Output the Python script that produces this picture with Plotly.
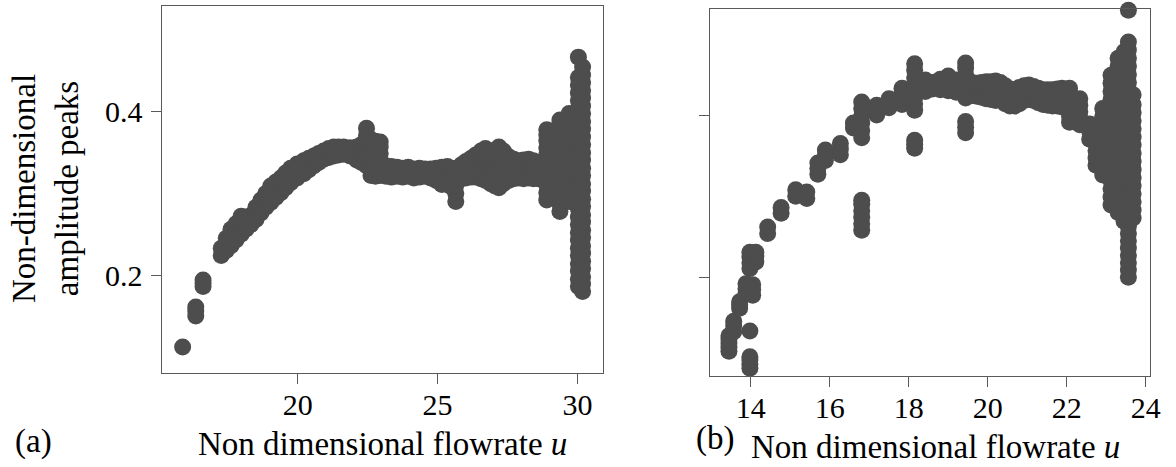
import plotly.graph_objects as go

# ---------------- panel (a) ----------------
a_u = [15.89, 16.36, 16.62,
       17.27, 17.45, 17.62, 17.80, 17.98, 18.15, 18.33, 18.51, 18.69, 18.86,
       19.04, 19.22, 19.40, 19.57, 19.75, 19.98, 20.22, 20.40, 20.58, 20.75,
       20.93, 21.11, 21.29, 21.46, 21.64, 21.87, 22.11, 22.28,
       22.46, 22.62, 22.78, 22.95,
       23.15, 23.35, 23.55, 23.75, 23.95, 24.15, 24.35, 24.55, 24.75, 24.95,
       25.15, 25.35, 25.50, 25.65, 25.85, 26.01, 26.20, 26.36, 26.55, 26.71,
       26.90, 27.05, 27.19, 27.35, 27.54, 27.72, 27.89, 28.07, 28.25, 28.42,
       28.60, 28.90, 29.37, 29.70, 30.03, 30.18]
a_peaks = [
    [0.112], [0.150, 0.156, 0.161], [0.186, 0.190, 0.194],
    [0.224, 0.233], [0.230, 0.238, 0.245], [0.236, 0.246, 0.256],
    [0.243, 0.253, 0.263], [0.250, 0.261, 0.272], [0.256, 0.264, 0.271],
    [0.262, 0.273], [0.268, 0.276, 0.283], [0.276, 0.284, 0.292],
    [0.283, 0.292, 0.300],
    [0.289, 0.299, 0.309], [0.295, 0.305, 0.314], [0.301, 0.310, 0.319],
    [0.307, 0.316, 0.325], [0.313, 0.322, 0.331], [0.319, 0.328, 0.336],
    [0.324, 0.332, 0.340], [0.329, 0.336, 0.343], [0.334, 0.340, 0.346],
    [0.338, 0.349],
    [0.342, 0.352], [0.344, 0.355], [0.346, 0.357], [0.347, 0.357],
    [0.348, 0.357], [0.346, 0.356], [0.341, 0.349, 0.357],
    [0.338, 0.349, 0.360],
    [0.334, 0.343, 0.352, 0.362, 0.371, 0.380],
    [0.322, 0.330, 0.339, 0.348, 0.357, 0.366],
    [0.321, 0.330, 0.339, 0.348, 0.356, 0.364],
    [0.322, 0.331, 0.340, 0.349, 0.357, 0.363],
    [0.321, 0.334], [0.320, 0.333], [0.321, 0.332], [0.320, 0.331],
    [0.321, 0.332], [0.319, 0.330], [0.320, 0.331], [0.321, 0.330],
    [0.319, 0.330], [0.316, 0.331],
    [0.311, 0.322, 0.332], [0.311, 0.322, 0.333], [0.308, 0.320, 0.331],
    [0.290, 0.300, 0.310, 0.320, 0.328], [0.318, 0.326, 0.335],
    [0.319, 0.329, 0.339], [0.320, 0.331, 0.343], [0.320, 0.333, 0.347],
    [0.318, 0.328, 0.340, 0.352], [0.316, 0.326, 0.336, 0.346, 0.355],
    [0.312, 0.322, 0.331, 0.341, 0.350], [0.309, 0.319, 0.329, 0.340, 0.353],
    [0.307, 0.317, 0.327, 0.337, 0.347, 0.357],
    [0.312, 0.322, 0.332, 0.342, 0.352], [0.316, 0.326, 0.336, 0.345],
    [0.318, 0.330, 0.342], [0.319, 0.330, 0.340], [0.318, 0.330, 0.341],
    [0.319, 0.331, 0.342], [0.318, 0.329, 0.340], [0.318, 0.328, 0.338],
    [0.292, 0.301, 0.311, 0.320, 0.329, 0.338, 0.347, 0.356, 0.365, 0.372,
     0.378],
    [0.278, 0.287, 0.296, 0.306, 0.315, 0.324, 0.333, 0.342, 0.351, 0.360,
     0.369, 0.378, 0.386, 0.390],
    [0.290, 0.300, 0.311, 0.322, 0.333, 0.344, 0.355, 0.366, 0.377, 0.388,
     0.398],
    [0.186, 0.195, 0.205, 0.214, 0.224, 0.233, 0.243, 0.252, 0.262, 0.271,
     0.281, 0.290, 0.300, 0.309, 0.319, 0.328, 0.338, 0.347, 0.357, 0.366,
     0.376, 0.385, 0.395, 0.404, 0.414, 0.423, 0.433, 0.442, 0.467],
    [0.180, 0.189, 0.198, 0.208, 0.217, 0.227, 0.236, 0.246, 0.255, 0.265,
     0.274, 0.284, 0.293, 0.303, 0.312, 0.322, 0.331, 0.341, 0.350, 0.360,
     0.369, 0.379, 0.388, 0.398, 0.407, 0.417, 0.426, 0.436, 0.445, 0.455],
]

# ---------------- panel (b) ----------------
b_u = [13.45, 13.57, 13.72, 13.88, 13.98, 14.05, 14.13, 14.43, 14.77, 15.14,
       15.42, 15.70, 15.89, 16.27, 16.60, 16.81, 17.19, 17.50, 17.83, 18.15,
       18.42, 18.60, 18.80, 19.00, 19.20, 19.44,
       19.60, 19.72, 19.84, 19.96, 20.08, 20.20, 20.32, 20.44, 20.56, 20.68,
       20.80, 20.92, 21.04, 21.16, 21.28, 21.40, 21.52, 21.64, 21.76, 21.88,
       22.07, 22.33, 22.58, 22.74, 22.91, 23.12, 23.30, 23.45, 23.56, 23.68]
b_peaks = [
    [0.109, 0.114, 0.119, 0.124, 0.128], [0.133, 0.140, 0.146],
    [0.162, 0.166, 0.170], [0.180, 0.186, 0.192],
    [0.088, 0.093, 0.098, 0.102, 0.134, 0.211, 0.218, 0.225, 0.231],
    [0.178, 0.185, 0.191], [0.219, 0.226, 0.231],
    [0.254, 0.262], [0.279, 0.286], [0.300, 0.308], [0.297, 0.305],
    [0.327, 0.334, 0.341], [0.344, 0.351, 0.357], [0.351, 0.358, 0.365],
    [0.384, 0.390],
    [0.258, 0.266, 0.274, 0.282, 0.290, 0.295,
     0.372, 0.381, 0.390, 0.399, 0.408, 0.416],
    [0.400, 0.406, 0.412], [0.409, 0.415, 0.420], [0.413, 0.420, 0.427, 0.433],
    [0.359, 0.364, 0.369, 0.406, 0.414, 0.422, 0.430, 0.438, 0.446, 0.455,
     0.463],
    [0.429, 0.436, 0.443], [0.432, 0.440], [0.431, 0.438, 0.444],
    [0.430, 0.437, 0.444, 0.448], [0.428, 0.436, 0.443],
    [0.378, 0.385, 0.392, 0.421, 0.430, 0.440, 0.450, 0.458, 0.464],
    [0.424, 0.432, 0.440], [0.423, 0.431, 0.439], [0.422, 0.431, 0.440],
    [0.420, 0.430, 0.441], [0.419, 0.430, 0.441], [0.418, 0.430, 0.442],
    [0.419, 0.429, 0.440], [0.414, 0.425, 0.436], [0.411, 0.421, 0.432],
    [0.411, 0.421, 0.431], [0.414, 0.424, 0.434], [0.418, 0.427, 0.436],
    [0.419, 0.428, 0.437], [0.418, 0.426, 0.435], [0.415, 0.424, 0.433],
    [0.413, 0.422, 0.431], [0.412, 0.421, 0.431], [0.411, 0.421, 0.431],
    [0.411, 0.421, 0.432], [0.410, 0.421, 0.433],
    [0.391, 0.398, 0.405, 0.412, 0.420, 0.427, 0.433],
    [0.388, 0.396, 0.404, 0.412, 0.420],
    [0.370, 0.380, 0.389],
    [0.338, 0.347, 0.356, 0.365, 0.375],
    [0.326, 0.335, 0.344, 0.353, 0.362, 0.371, 0.380, 0.389, 0.398, 0.408],
    [0.289, 0.299, 0.309, 0.319, 0.329, 0.339, 0.349, 0.359, 0.369, 0.379,
     0.389, 0.399, 0.409, 0.419, 0.429, 0.439, 0.449],
    [0.280, 0.290, 0.300, 0.310, 0.320, 0.330, 0.340, 0.350, 0.360, 0.370,
     0.380, 0.390, 0.400, 0.410, 0.420, 0.430, 0.440, 0.450, 0.460, 0.470],
    [0.269, 0.279, 0.290, 0.301, 0.312, 0.323, 0.334, 0.345, 0.356, 0.367,
     0.378, 0.389, 0.400, 0.411, 0.422, 0.433, 0.444, 0.455, 0.466, 0.478],
    [0.200, 0.209, 0.218, 0.227, 0.236, 0.245, 0.254, 0.263, 0.272, 0.281,
     0.290, 0.300, 0.310, 0.320, 0.330, 0.340, 0.350, 0.360, 0.370, 0.380,
     0.390, 0.400, 0.410, 0.420, 0.430, 0.440, 0.450, 0.460, 0.470, 0.480,
     0.490, 0.529],
    [0.273, 0.283, 0.293, 0.303, 0.313, 0.323, 0.333, 0.343, 0.353, 0.363,
     0.373, 0.383, 0.393, 0.403, 0.413, 0.425],
]

a_xticks = [20, 25, 30]
b_xticks = [14, 16, 18, 20, 22, 24]
y_ticks = [0.2, 0.4]
y_ticktext = ["0.2", "0.4"]

x_title = "Non dimensional flowrate <i>u</i>"
y_title = "Non-dimensional<br>amplitude peaks"

MARK = "#4d4d4d"
AX = "#5a5a5a"
FONT = "'Liberation Serif', 'DejaVu Serif', serif"
FS_TICK = 30
FS_TITLE = 33
W, H = 1176, 467


def flatten(us, peaks):
    xs, ys = [], []
    for u, ps in zip(us, peaks):
        for p in ps:
            xs.append(u)
            ys.append(p)
    return xs, ys


ax_, ay_ = flatten(a_u, a_peaks)
bx_, by_ = flatten(b_u, b_peaks)

fig = go.Figure()
fig.add_trace(go.Scatter(x=ax_, y=ay_, mode="markers", xaxis="x", yaxis="y",
                         marker=dict(size=17, color=MARK, line=dict(width=0)),
                         cliponaxis=False, showlegend=False))
fig.add_trace(go.Scatter(x=bx_, y=by_, mode="markers", xaxis="x2", yaxis="y2",
                         marker=dict(size=17, color=MARK, line=dict(width=0)),
                         cliponaxis=False, showlegend=False))

common = dict(showline=True, linecolor=AX, linewidth=1, mirror=True,
              ticks="outside", ticklen=10, tickcolor=AX, tickwidth=1,
              showgrid=False, zeroline=False,
              tickfont=dict(family=FONT, size=FS_TICK, color="black"))

tfont = dict(family=FONT, size=FS_TITLE, color="black")

fig.update_layout(
    width=W, height=H, autosize=False,
    margin=dict(l=0, r=0, t=0, b=0),
    paper_bgcolor="white", plot_bgcolor="white",
    font=dict(family=FONT, size=FS_TICK, color="black"),
    xaxis=dict(domain=[164 / W, 609 / W], range=[15.17, 30.92],
               tickvals=a_xticks, anchor="y", ticklabelstandoff=-5, **common),
    yaxis=dict(domain=[1 - 372.7 / H, 1 - 5.7 / H], range=[0.0804, 0.530],
               tickvals=y_ticks, ticktext=y_ticktext, anchor="x",
               ticklabelstandoff=3, **common),
    xaxis2=dict(domain=[716.7 / W, 1161 / W], range=[12.97, 24.11],
                tickvals=b_xticks, anchor="y2", ticklabelstandoff=-5, **common),
    yaxis2=dict(domain=[1 - 375.7 / H, 1 - 9 / H], range=[0.0788, 0.5306],
                tickvals=y_ticks, showticklabels=False, anchor="x2", **common),
    annotations=[
        dict(text=x_title, x=386 / W, y=3 / H, xref="paper", yref="paper",
             xanchor="center", yanchor="bottom", showarrow=False, font=tfont),
        dict(text=x_title, x=944 / W, y=0, xref="paper", yref="paper",
             xanchor="center", yanchor="bottom", showarrow=False, font=tfont),
        dict(text="(a)", x=33.5 / W, y=1 - 441.7 / H, xref="paper", yref="paper",
             xanchor="center", yanchor="middle", showarrow=False, font=tfont),
        dict(text="(b)", x=722 / W, y=1 - 438 / H, xref="paper", yref="paper",
             xanchor="center", yanchor="middle", showarrow=False, font=tfont),
        dict(text=y_title, x=46.5 / W, y=1 - 189 / H, xref="paper", yref="paper",
             xanchor="center", yanchor="middle", showarrow=False, textangle=-90,
             font=tfont),
    ],
)

fig.write_html("out.html")
